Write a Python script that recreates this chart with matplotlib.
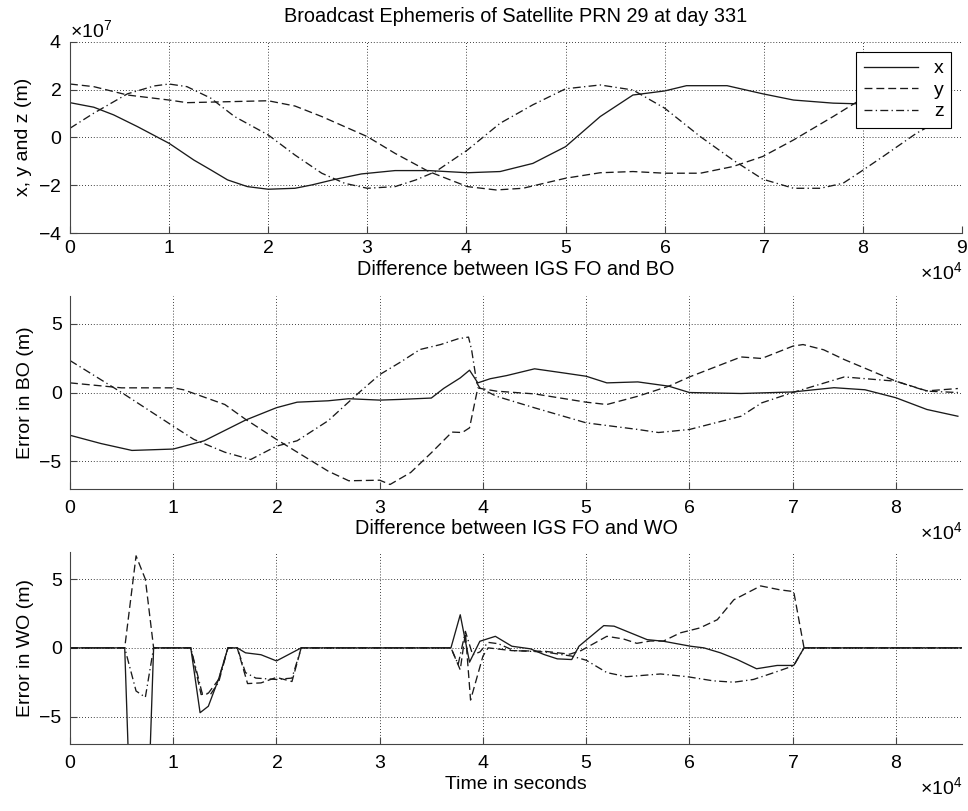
import matplotlib
matplotlib.use("Agg")
import matplotlib.pyplot as plt
import numpy as np
from matplotlib.ticker import ScalarFormatter

plt.rcParams["font.family"] = ["Liberation Sans", "DejaVu Sans"]
plt.rcParams["mathtext.fontset"] = "custom"
plt.rcParams["mathtext.rm"] = "Liberation Sans"
plt.rcParams["font.size"] = 14

# ---- top panel: broadcast ephemeris (time in 1e4 s, position in 1e7 m)
t_x_top = [0, 0.24, 0.44, 0.68, 1.0, 1.25, 1.42, 1.59, 1.79, 2.0, 2.27, 2.44, 2.67, 2.94,
           3.28, 3.62, 4.01, 4.34, 4.67, 5.0, 5.35, 5.68, 6.0, 6.22, 6.63, 6.99, 7.3, 7.7,
           7.97, 8.3, 8.64]
x_top = [1.45, 1.26, 0.94, 0.45, -0.25, -0.95, -1.36, -1.78, -2.06, -2.17, -2.13, -1.99,
         -1.76, -1.53, -1.39, -1.39, -1.48, -1.43, -1.09, -0.39, 0.87, 1.77, 1.94, 2.16,
         2.16, 1.82, 1.56, 1.43, 1.40, 1.5, 1.65]
t_y_top = [0, 0.24, 0.58, 1.0, 1.18, 1.59, 2.0, 2.27, 2.54, 3.0, 3.28, 3.62, 4.01, 4.3,
           4.57, 5.0, 5.35, 5.68, 6.0, 6.36, 6.69, 6.99, 7.3, 7.7, 7.97, 8.3, 8.64]
y_top = [2.23, 2.12, 1.77, 1.56, 1.45, 1.49, 1.53, 1.31, 0.87, 0.03, -0.67, -1.43, -2.06,
         -2.2, -2.13, -1.71, -1.48, -1.43, -1.5, -1.5, -1.22, -0.8, -0.11, 0.87, 1.56,
         2.2, 2.7]
t_z_top = [0, 0.24, 0.58, 0.85, 1.0, 1.18, 1.42, 1.66, 2.0, 2.27, 2.54, 2.77, 3.0, 3.28,
           3.49, 3.69, 4.01, 4.34, 4.67, 5.0, 5.35, 5.68, 6.0, 6.36, 6.69, 6.99, 7.3, 7.57,
           7.8, 7.98, 8.2, 8.54, 8.64]
z_top = [0.38, 1.01, 1.82, 2.15, 2.23, 2.12, 1.64, 0.87, 0.1, -0.74, -1.5, -1.92, -2.13,
         -2.06, -1.78, -1.43, -0.53, 0.59, 1.36, 2.03, 2.19, 1.98, 1.22, 0.03, -0.95,
         -1.75, -2.13, -2.13, -1.92, -1.43, -0.81, 0.17, 0.4]

# ---- middle panel: IGS FO - BO (m)
t_x_bo = [0, 0.3, 0.6, 1.0, 1.3, 1.7, 2.0, 2.2, 2.5, 2.7, 3.0, 3.2, 3.5, 3.62, 3.78, 3.87,
          3.95, 4.07, 4.23, 4.5, 4.8, 5.0, 5.2, 5.5, 5.8, 6.0, 6.5, 7.0, 7.4, 7.7, 8.0,
          8.3, 8.6]
x_bo = [-3.1, -3.7, -4.2, -4.1, -3.5, -2.0, -1.1, -0.7, -0.6, -0.45, -0.55, -0.5, -0.4,
        0.3, 1.06, 1.62, 0.7, 1.0, 1.23, 1.72, 1.4, 1.18, 0.7, 0.77, 0.46, 0.0, -0.07,
        0.04, 0.35, 0.2, -0.38, -1.23, -1.72]
t_y_bo = [0, 0.5, 1.0, 1.1, 1.5, 1.7, 2.0, 2.5, 2.7, 3.0, 3.1, 3.3, 3.5, 3.7, 3.8, 3.87,
          3.95, 4.13, 4.5, 5.0, 5.2, 5.5, 5.8, 6.0, 6.5, 6.7, 7.0, 7.1, 7.3, 7.5, 8.0,
          8.3, 8.6]
y_bo = [0.7, 0.34, 0.34, 0.2, -0.87, -1.94, -3.4, -5.7, -6.4, -6.36, -6.67, -5.8, -4.37,
        -2.87, -2.9, -2.56, 0.33, 0.1, -0.1, -0.7, -0.87, -0.27, 0.46, 1.13, 2.58, 2.47,
        3.36, 3.48, 3.1, 2.39, 0.82, 0.12, 0.29]
t_z_bo = [0, 0.5, 1.0, 1.2, 1.5, 1.75, 2.0, 2.2, 2.5, 2.8, 3.0, 3.2, 3.39, 3.59, 3.76,
          3.86, 3.89, 3.94, 3.97, 4.13, 4.5, 5.0, 5.5, 5.7, 6.0, 6.5, 6.7, 7.0, 7.5, 8.0,
          8.3, 8.6]
z_bo = [2.32, 0.0, -2.44, -3.4, -4.33, -4.86, -3.89, -3.5, -2.05, 0.0, 1.3, 2.2, 3.12,
        3.48, 3.9, 4.02, 3.1, 0.7, 0.33, -0.27, -1.11, -2.2, -2.68, -2.9, -2.68, -1.72,
        -0.75, 0.0, 1.13, 0.82, 0.1, 0.0]

# ---- bottom panel: IGS FO - WO (m)
t_x_wo = [0, 0.53, 0.62, 0.72, 0.81, 1.17, 1.26, 1.34, 1.44, 1.53, 1.62, 1.7, 1.85, 2.0,
          2.24, 3.69, 3.78, 3.87, 3.97, 4.12, 4.28, 4.46, 4.59, 4.72, 4.86, 4.93, 5.17,
          5.27, 5.59, 5.75, 6.01, 6.14, 6.3, 6.46, 6.65, 6.85, 7.01, 7.11, 8.64]
x_wo = [0, 0, -20, -20, 0, 0, -4.72, -4.25, -2.26, 0, 0, -0.36, -0.5, -0.95, 0, 0, 2.41,
        -1.04, 0.48, 0.84, 0.12, -0.07, -0.48, -0.8, -0.85, 0.12, 1.62, 1.58, 0.6, 0.48,
        0.12, 0, -0.36, -0.84, -1.52, -1.28, -1.28, 0, 0]
t_y_wo = [0, 0.53, 0.64, 0.73, 0.81, 1.17, 1.27, 1.34, 1.44, 1.53, 1.62, 1.72, 1.85, 2.0,
          2.15, 2.24, 3.69, 3.78, 3.83, 3.88, 4.0, 4.05, 4.28, 4.6, 4.84, 4.95, 5.2, 5.36,
          5.49, 5.62, 5.75, 5.91, 6.1, 6.27, 6.43, 6.69, 6.88, 7.01, 7.11, 8.64]
y_wo = [0, 0, 6.7, 5.0, 0, 0, -3.4, -3.3, -2.3, 0, 0, -2.6, -2.55, -2.15, -2.45, 0, 0,
        -1.6, 1.1, -3.8, -0.6, 0, -0.2, -0.25, -0.46, -0.2, 0.84, 0.65, 0.33, 0.5, 0.5,
        1.09, 1.45, 2.05, 3.5, 4.51, 4.22, 4.1, 0, 0]
t_z_wo = [0, 0.53, 0.64, 0.73, 0.81, 1.17, 1.28, 1.36, 1.44, 1.53, 1.62, 1.7, 1.8, 2.0,
          2.15, 2.24, 3.69, 3.76, 3.83, 3.9, 3.97, 4.05, 4.15, 4.3, 4.6, 4.86, 5.0, 5.2,
          5.39, 5.72, 5.98, 6.23, 6.43, 6.62, 6.82, 7.01, 7.11, 8.64]
z_wo = [0, 0, -3.14, -3.6, 0, 0, -3.3, -3.4, -2.5, 0, 0, -1.8, -2.2, -2.3, -2.2, 0, 0,
        -1.2, 1.2, -0.5, -0.3, 0.4, 0.3, -0.2, -0.3, -0.6, -0.9, -1.8, -2.1, -1.9, -2.1,
        -2.4, -2.5, -2.3, -1.8, -1.3, 0, 0]

LINE = dict(color="#1a1a1a", lw=0.95)
DASH = (6, 3)
DASHDOT = (6, 2.5, 1, 2.5)


def style(ax, xmax, ylim, yticks, xpad=8):
    ax.set_xlim(0, xmax)
    ax.set_ylim(*ylim)
    ax.set_yticks(yticks)
    ax.set_xticks(np.arange(0, xmax + 1, 1e4))
    for s in ("top", "right"):
        ax.spines[s].set_visible(False)
    for s in ("left", "bottom"):
        ax.spines[s].set_color("#444444")
    ax.tick_params(direction="in", length=5, color="#444444", labelsize=14)
    ax.tick_params(axis="x", pad=xpad)
    ax.tick_params(axis="y", pad=6)
    ax.grid(True, linestyle=(0, (1, 2.5)), color="black", lw=0.6)
    fx = ScalarFormatter(useMathText=True)
    fx.set_powerlimits((0, 0))
    ax.xaxis.set_major_formatter(fx)
    ax.xaxis.get_offset_text().set_fontsize(14)


fig = plt.figure(figsize=(9.68, 8.11), dpi=100)
ax1 = fig.add_axes([0.0723, 0.7127, 0.9215, 0.2359])
ax2 = fig.add_axes([0.0723, 0.397, 0.9215, 0.238])
ax3 = fig.add_axes([0.0723, 0.0826, 0.9215, 0.2371])

# top
ax1.plot(np.array(t_x_top) * 1e4, np.array(x_top) * 1e7, label="x", **LINE)
ax1.plot(np.array(t_y_top) * 1e4, np.array(y_top) * 1e7, label="y", dashes=DASH, **LINE)
ax1.plot(np.array(t_z_top) * 1e4, np.array(z_top) * 1e7, label="z", dashes=DASHDOT, **LINE)
style(ax1, 9e4, (-4e7, 4e7), np.arange(-4e7, 4.1e7, 2e7), xpad=5)
fy = ScalarFormatter(useMathText=True)
fy.set_powerlimits((0, 0))
ax1.yaxis.set_major_formatter(fy)
ax1.yaxis.get_offset_text().set_fontsize(14)
ax1.set_ylabel("x, y and z (m)")
ax1.set_title("Broadcast Ephemeris of Satellite PRN 29 at day 331", fontsize=14.3, pad=14)
leg = ax1.legend(loc="upper right", bbox_to_anchor=(0.988, 0.946), borderaxespad=0,
                 fancybox=False, edgecolor="black", framealpha=1, handlelength=2.8,
                 fontsize=14, labelspacing=0.2)
leg.get_frame().set_linewidth(0.8)

# middle
ax2.plot(np.array(t_x_bo) * 1e4, x_bo, **LINE)
ax2.plot(np.array(t_y_bo) * 1e4, y_bo, dashes=DASH, **LINE)
ax2.plot(np.array(t_z_bo) * 1e4, z_bo, dashes=DASHDOT, **LINE)
style(ax2, 86400, (-7, 7), [-5, 0, 5])
ax2.set_ylabel("Error in BO (m)")
ax2.set_title("Difference between IGS FO and BO", fontsize=14.3, pad=15)

# bottom
ax3.plot(np.array(t_x_wo) * 1e4, x_wo, **LINE)
ax3.plot(np.array(t_y_wo) * 1e4, y_wo, dashes=DASH, **LINE)
ax3.plot(np.array(t_z_wo) * 1e4, z_wo, dashes=DASHDOT, **LINE)
style(ax3, 86400, (-7, 7), [-5, 0, 5])
ax3.set_ylabel("Error in WO (m)")
ax3.set_xlabel("Time in seconds", labelpad=3)
ax3.set_title("Difference between IGS FO and WO", fontsize=14.3, pad=13)

fig.savefig("out.png", dpi=100)
